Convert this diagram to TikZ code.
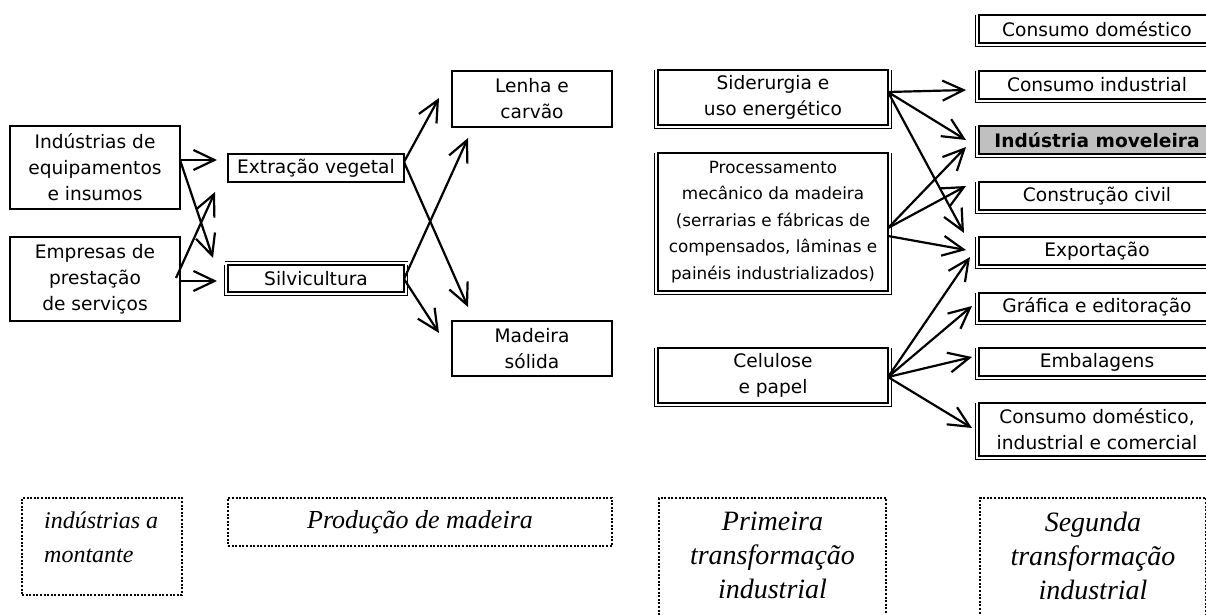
\documentclass[tikz,border=0pt]{standalone}
\usepackage{fontspec}
\setmainfont{Liberation Serif}
\newfontfamily\tah{DejaVu Sans}
\usetikzlibrary{arrows.meta,calc}
\newcommand\dblf[1]{\draw[line width=0.9pt] ([xshift=-3.5pt]#1.north west) -- ([shift={(-3.5pt,-3.5pt)}]#1.south west) -- ([shift={(3.5pt,-3.5pt)}]#1.south east) -- ([xshift=3.5pt]#1.north east);}
\begin{document}
\begin{tikzpicture}[x=1pt,y=-1pt,
  box/.style={draw, line width=2pt, anchor=north west, inner sep=0pt, outer sep=0pt, align=center, font=\tah\fontsize{18.6}{26}\selectfont},
  rbox/.style={box, minimum width=236pt, minimum height=28pt},
  dotbox/.style={draw, line width=2.2pt, dash pattern=on 2pt off 1.6pt, anchor=north west, inner sep=0pt, outer sep=0pt},
  itx/.style={font=\itshape\fontsize{#1}{34}\selectfont, inner sep=0pt},
  arr/.style={line width=2.2pt, -{Straight Barb[length=21pt,width=20pt]}}]
\useasboundingbox (0,0) rectangle (1206,615);
\clip (0,0) rectangle (1206,615);
% left column
\node[box, minimum width=170pt, minimum height=83pt] (A) at (10,126) {Indústrias de\\equipamentos\\e insumos};
\node[box, minimum width=170pt, minimum height=84pt] (B) at (10,237) {Empresas de\\prestação\\de serviços};
% production
\node[box, minimum width=176pt, minimum height=28pt] (ext) at (228,154) {Extração vegetal};
\node[box, minimum width=176pt, minimum height=27pt] (silv) at (228,265) {Silvicultura};
\dblf{silv}
\draw[line width=0.9pt] ([shift={(-3.5pt,3.5pt)}]silv.north west) -- ([shift={(3.5pt,3.5pt)}]silv.north east);
\node[box, minimum width=160pt, minimum height=56pt] (lenha) at (452,71) {Lenha e\\carvão};
\node[box, minimum width=160pt, minimum height=55pt] (mad) at (452,321) {Madeira\\sólida};
% first transformation
\node[box, minimum width=230pt, minimum height=55pt] (sid) at (658,70) {Siderurgia e\\uso energético};
\dblf{sid}
\node[box, minimum width=230pt, minimum height=138pt, font=\tah\fontsize{16.8}{26.5}\selectfont] (proc) at (658,153) {Processamento\\mecânico da madeira\\(serrarias e fábricas de\\compensados, lâminas e\\painéis industrializados)};
\dblf{proc}
\node[box, minimum width=230pt, minimum height=55pt] (cel) at (658,348) {Celulose\\e papel};
\dblf{cel}
% second transformation
\node[rbox] (cdom) at (979,15) {Consumo doméstico};
\node[rbox] (cind) at (979,71) {Consumo industrial};
\node[rbox, fill={rgb,255:red,192;green,192;blue,192}, font=\tah\bfseries\fontsize{18.6}{26}\selectfont] (imov) at (979,126) {Indústria moveleira};
\node[rbox] (civil) at (979,182) {Construção civil};
\node[rbox] (exp) at (979,237) {Exportação};
\node[rbox] (graf) at (979,293) {Gráfica e editoração};
\node[rbox] (emb) at (979,348) {Embalagens};
\node[rbox, minimum height=53pt] (cdic) at (979,403) {Consumo doméstico,\\industrial e comercial};
\foreach \n in {cdom,cind,imov,civil,exp,graf,emb,cdic}{\dblf{\n}}
% arrows left
\draw[arr] ($(A.north east)+(0,34)$) -- ($(ext.north west)+(-11,6)$);
\draw[arr] ($(A.north east)+(0,34)$) -- ($(silv.north west)+(-15,-7)$);
\draw[arr] ($(B.north east)+(-4,41)$) -- ($(ext.south west)+(-13,10)$);
\draw[arr] ($(B.north east)+(0,44)$) -- ($(silv.north west)+(-11,16)$);
% arrows middle
\draw[arr] ($(ext.north east)+(0,8)$) -- ($(lenha.north west)+(-13,27)$);
\draw[arr] ($(ext.north east)+(0,8)$) -- ($(mad.north west)+(16,-14)$);
\draw[arr] ($(silv.north east)+(0,14)$) -- ($(lenha.south west)+(16,11)$);
\draw[arr] ($(silv.north east)+(0,14)$) -- ($(mad.north west)+(-13,12)$);
% arrows right
\draw[arr] ($(sid.north east)+(0,22)$) -- ($(cind.north west)+(-13,19)$);
\draw[arr] ($(sid.north east)+(0,22)$) -- ($(imov.north west)+(-13,14)$);
\draw[arr] ($(sid.north east)+(0,22)$) -- ($(exp.north west)+(-15,-4)$);
\draw[arr] ($(proc.north east)+(0,75)$) -- ($(imov.south west)+(-13,-7)$);
\draw[arr] ($(proc.north east)+(0,75)$) -- ($(civil.north west)+(-13,4)$);
\draw[arr] ($(proc.north east)+(0,83)$) -- ($(exp.north west)+(-13,13)$);
\draw[arr] ($(cel.north east)+(0,29)$) -- ($(exp.south west)+(-9,-8)$);
\draw[arr] ($(cel.north east)+(0,29)$) -- ($(graf.north west)+(-7,13)$);
\draw[arr] ($(cel.north east)+(0,29)$) -- ($(emb.north west)+(-7,9)$);
\draw[arr] ($(cel.north east)+(0,29)$) -- ($(cdic.north west)+(-7,25)$);
% dotted stage boxes
\node[dotbox, minimum width=160pt, minimum height=97pt] (d1) at (22,498) {};
\node[itx=24, anchor=north west, align=left] (d1t) at ($(d1.north west)+(22,14)$) {indústrias a\\montante};
\node[dotbox, minimum width=384pt, minimum height=48pt, font=\itshape\fontsize{26}{33}\selectfont] (d2) at (228,498) {Produção de madeira};
\node[dotbox, minimum width=227pt, minimum height=140pt] (d3) at (659,498) {};
\node[itx=28, anchor=north, align=center] (d3t) at ($(d3.north)+(0,14)$) {Primeira\\transformação\\industrial};
\node[dotbox, minimum width=226pt, minimum height=140pt] (d4) at (980,498) {};
\node[itx=28, anchor=north, align=center] (d4t) at ($(d4.north)+(0,14)$) {Segunda\\transformação\\industrial};
\end{tikzpicture}
\end{document}
